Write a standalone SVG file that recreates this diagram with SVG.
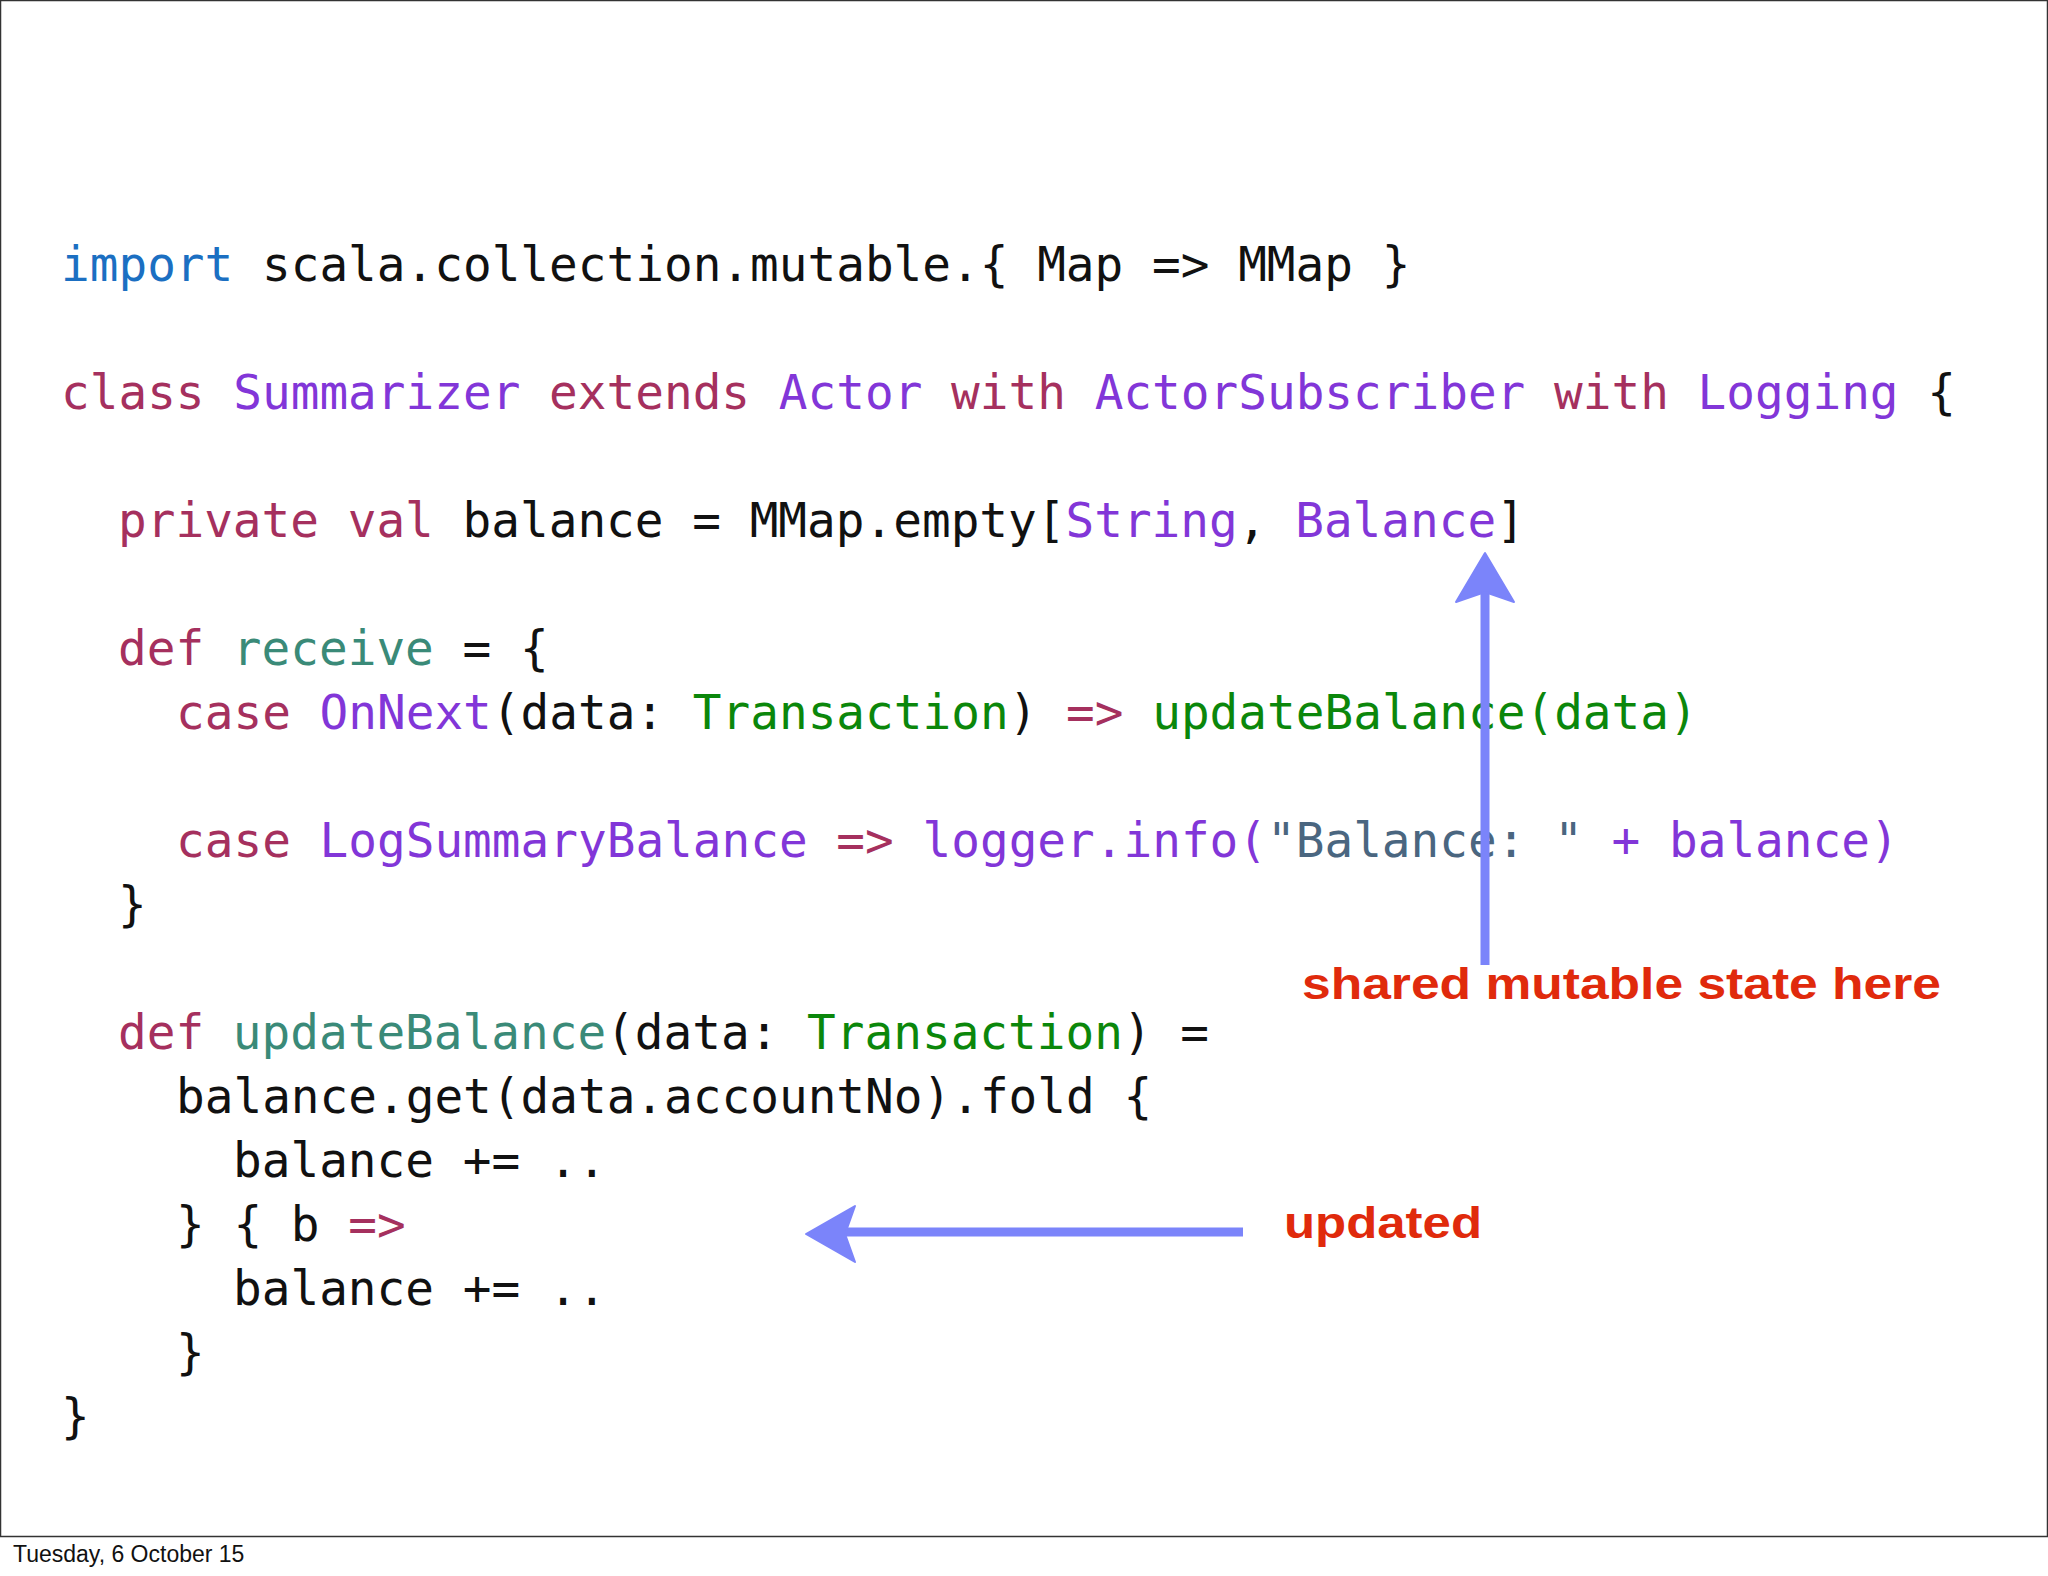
<svg xmlns="http://www.w3.org/2000/svg" width="2048" height="1576" viewBox="0 0 2048 1576">
<style>
.c{font-family:"DejaVu Sans Mono",monospace;font-size:47.7px;fill:#111;white-space:pre}
.k{fill:#a5305e}.t{fill:#8236d8}.i{fill:#1b6fc2}.f{fill:#3a8a78}.g{fill:#0b870b}.s{fill:#4a6680}
.r{font-family:"Liberation Sans",sans-serif;font-weight:bold;font-size:44px;fill:#e02a0c}
.ft{font-family:"Liberation Sans",sans-serif;font-size:23px;fill:#111}
</style>
<rect x="0" y="0" width="2048" height="1576" fill="#fff"/>
<rect x="0.5" y="0.5" width="2047" height="1536" fill="none" stroke="#333" stroke-width="1.5"/>
<g id="code" class="c">
<text x="61" y="281"><tspan class="i">import</tspan> scala.collection.mutable.{ Map =&gt; MMap }</text>
<text x="61" y="409"><tspan class="k">class</tspan> <tspan class="t">Summarizer</tspan> <tspan class="k">extends</tspan> <tspan class="t">Actor</tspan> <tspan class="k">with</tspan> <tspan class="t">ActorSubscriber</tspan> <tspan class="k">with</tspan> <tspan class="t">Logging</tspan> {</text>
<text x="118" y="537"><tspan class="k">private</tspan> <tspan class="k">val</tspan> balance = MMap.empty[<tspan class="t">String</tspan>, <tspan class="t">Balance</tspan>]</text>
<text x="118" y="665"><tspan class="k">def</tspan> <tspan class="f">receive</tspan> = {</text>
<text x="176" y="729"><tspan class="k">case</tspan> <tspan class="t">OnNext</tspan>(data: <tspan class="g">Transaction</tspan>) <tspan class="k">=&gt;</tspan> <tspan class="g">updateBalance(data)</tspan></text>
<text x="176" y="857"><tspan class="k">case</tspan> <tspan class="t">LogSummaryBalance</tspan> <tspan class="k">=&gt;</tspan> <tspan class="t">logger.info(</tspan><tspan class="s">"Balance: "</tspan><tspan class="t"> + balance)</tspan></text>
<text x="118" y="921">}</text>
<text x="118" y="1049"><tspan class="k">def</tspan> <tspan class="f">updateBalance</tspan>(data: <tspan class="g">Transaction</tspan>) =</text>
<text x="176" y="1113">balance.get(data.accountNo).fold {</text>
<text x="233" y="1177">balance += ..</text>
<text x="176" y="1241">} { b <tspan class="k">=&gt;</tspan></text>
<text x="233" y="1305">balance += ..</text>
<text x="176" y="1369">}</text>
<text x="61" y="1433">}</text>
</g>
<g id="connectors" fill="#7b84fa" stroke="#7b84fa">
<line x1="1485" y1="965" x2="1485" y2="585" stroke-width="9"/>
<polygon points="1485,553 1456,602 1485,592 1514,602" stroke-width="2" stroke-linejoin="round"/>
<line x1="1243" y1="1232" x2="840" y2="1232" stroke-width="9"/>
<polygon points="806,1234 855,1206 845,1234 855,1262" stroke-width="2" stroke-linejoin="round"/>
</g>
<g id="label-shared"><text class="r" x="1302" y="999" textLength="639" lengthAdjust="spacingAndGlyphs">shared mutable state here</text></g>
<g id="label-updated"><text class="r" x="1284" y="1238" textLength="198" lengthAdjust="spacingAndGlyphs">updated</text></g>
<text class="ft" x="13" y="1562">Tuesday, 6 October 15</text>
</svg>
